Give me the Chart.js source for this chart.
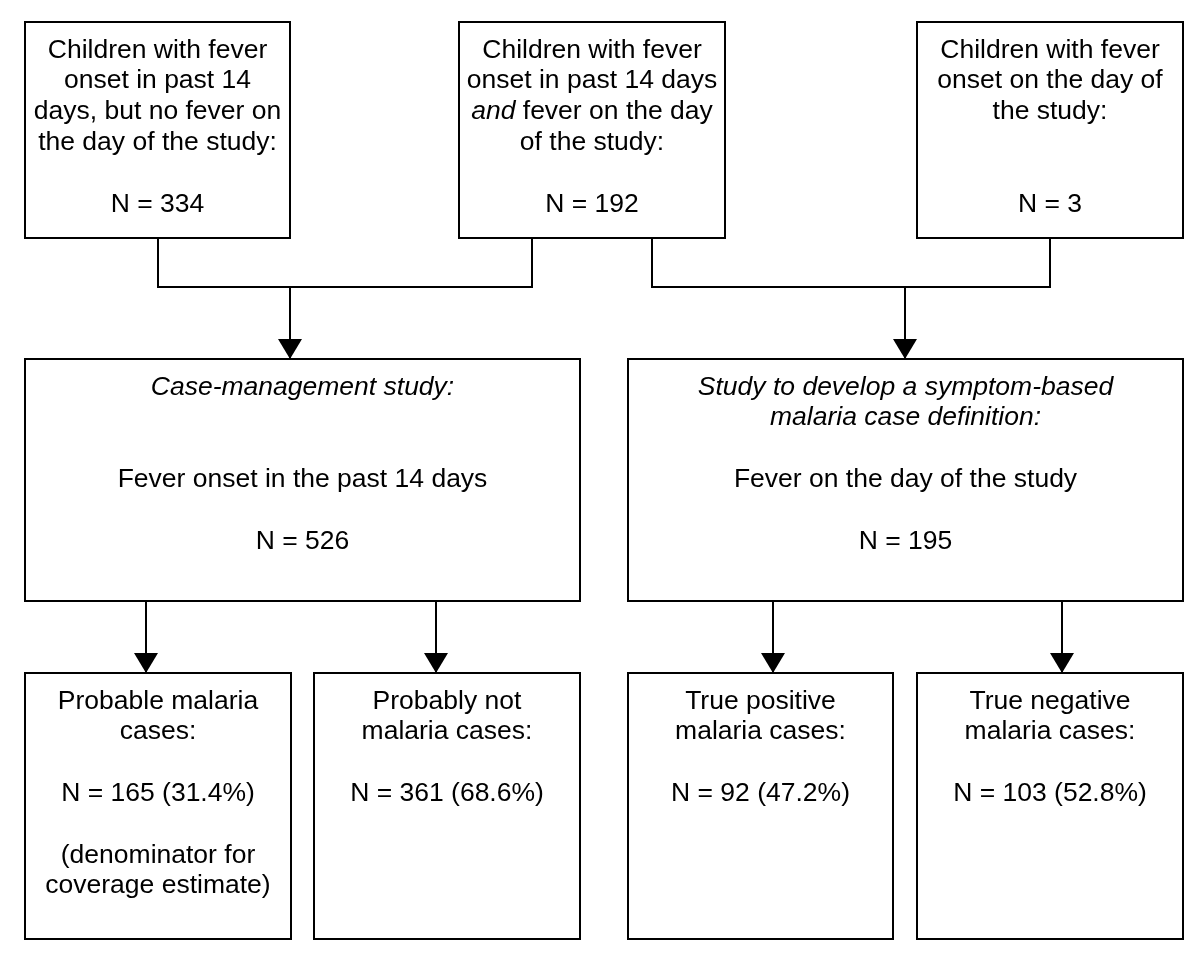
<!DOCTYPE html>
<html>
<head>
<meta charset="utf-8">
<script src="https://cdn.jsdelivr.net/npm/chart.js@4"></script>
<style>
  html, body { margin: 0; padding: 0; background: #fff; }
  #wrap { width: 1200px; height: 958px; position: relative; }
</style>
</head>
<body>
<div id="wrap"><canvas id="flow"></canvas></div>
<script>
// Valores do fluxograma
const topLabels = [
  ['Children with fever', 'onset in past 14', 'days, but no fever on', 'the day of the study:'],
  ['Children with fever', 'onset in past 14 days', '*and* fever on the day', 'of the study:'],
  ['Children with fever', 'onset on the day of', 'the study:']
];
const topCounts = [334, 192, 3];

const studyTitles = [
  ['Case-management study:'],
  ['Study to develop a symptom-based', 'malaria case definition:']
];
const studyCriteria = ['Fever onset in the past 14 days', 'Fever on the day of the study'];
const studyCounts = [526, 195];

const outcomeLabels = [
  ['Probable malaria', 'cases:'],
  ['Probably not', 'malaria cases:'],
  ['True positive', 'malaria cases:'],
  ['True negative', 'malaria cases:']
];
const outcomeCounts = [165, 361, 92, 103];
const outcomePct = [31.4, 68.6, 47.2, 52.8];
const outcomeNotes = [['(denominator for', 'coverage estimate)'], [], [], []];

// Layout (unidades do eixo = pixels da figura)
const topBoxes = [[25, 22, 290, 238], [459, 22, 725, 238], [917, 22, 1183, 238]];
const studyBoxes = [[25, 359, 580, 601], [628, 359, 1183, 601]];
const outcomeBoxes = [[25, 673, 291, 939], [314, 673, 580, 939], [628, 673, 893, 939], [917, 673, 1183, 939]];
const joins = [
  [[158, 238], [158, 287], [532, 287], [532, 238]],
  [[652, 238], [652, 287], [1050, 287], [1050, 238]]
];
const arrows = [
  [[290, 287], [290, 359]], [[905, 287], [905, 359]],
  [[146, 601], [146, 673]], [[436, 601], [436, 673]],
  [[773, 601], [773, 673]], [[1062, 601], [1062, 673]]
];

const FONT = '"Liberation Sans", Arial, Helvetica, sans-serif';
const FONT_SIZE = 26.5;
const FIRST_LINE = 35.5;
const LINE_STEP = 30.8;
const HEAD_LEN = 20;
const HEAD_HALF = 12;

function pad(arr, n) {
  const out = arr.slice();
  while (out.length < n) out.push('');
  return out;
}

// monta as linhas de texto de cada caixa
const boxes = [];
topBoxes.forEach((b, i) => {
  boxes.push({ rect: b, lines: pad(topLabels[i], 4).concat(['', 'N = ' + topCounts[i]]) });
});
studyBoxes.forEach((b, i) => {
  const t = pad(studyTitles[i], 2).map(s => s ? '*' + s + '*' : '');
  boxes.push({ rect: b, lines: t.concat(['', studyCriteria[i], '', 'N = ' + studyCounts[i]]) });
});
outcomeBoxes.forEach((b, i) => {
  const l = outcomeLabels[i].concat(['', 'N = ' + outcomeCounts[i] + ' (' + outcomePct[i].toFixed(1) + '%)']);
  boxes.push({ rect: b, lines: outcomeNotes[i].length ? l.concat([''], outcomeNotes[i]) : l });
});

function drawRich(ctx, text, cx, y) {
  // trechos entre * ficam em itálico
  const parts = text.split('*').map((s, k) => ({ s: s, it: k % 2 === 1 })).filter(p => p.s);
  let total = 0;
  parts.forEach(p => {
    ctx.font = (p.it ? 'italic ' : '') + FONT_SIZE + 'px ' + FONT;
    p.w = ctx.measureText(p.s).width;
    total += p.w;
  });
  let x = cx - total / 2;
  parts.forEach(p => {
    ctx.font = (p.it ? 'italic ' : '') + FONT_SIZE + 'px ' + FONT;
    ctx.fillText(p.s, x, y);
    x += p.w;
  });
}

const boxPlugin = {
  id: 'boxPlugin',
  afterDatasetsDraw(chart) {
    const ctx = chart.ctx;
    const sx = chart.scales.x, sy = chart.scales.y;
    ctx.save();
    ctx.strokeStyle = '#000';
    ctx.fillStyle = '#000';
    ctx.lineWidth = 2;
    ctx.textAlign = 'left';
    ctx.textBaseline = 'alphabetic';
    boxes.forEach(b => {
      const x0 = sx.getPixelForValue(b.rect[0]), x1 = sx.getPixelForValue(b.rect[2]);
      const y0 = sy.getPixelForValue(b.rect[1]), y1 = sy.getPixelForValue(b.rect[3]);
      ctx.strokeRect(x0, y0, x1 - x0, y1 - y0);
      const cx = (x0 + x1) / 2;
      b.lines.forEach((line, k) => {
        if (!line) return;
        const y = sy.getPixelForValue(b.rect[1] + FIRST_LINE + k * LINE_STEP);
        drawRich(ctx, line, cx, y);
      });
    });
    // pontas das setas
    chart.data.datasets.forEach((ds, i) => {
      if (!ds.arrow) return;
      const pts = chart.getDatasetMeta(i).data;
      const tip = pts[pts.length - 1];
      ctx.beginPath();
      ctx.moveTo(tip.x, tip.y);
      ctx.lineTo(tip.x - HEAD_HALF, tip.y - HEAD_LEN);
      ctx.lineTo(tip.x + HEAD_HALF, tip.y - HEAD_LEN);
      ctx.closePath();
      ctx.fill();
    });
    ctx.restore();
  }
};

const datasets = [];
joins.forEach(j => datasets.push({ data: j.map(p => ({ x: p[0], y: p[1] })) }));
arrows.forEach(a => datasets.push({ arrow: true, data: a.map(p => ({ x: p[0], y: p[1] })) }));
datasets.forEach(ds => {
  ds.showLine = true;
  ds.borderColor = '#000';
  ds.borderWidth = 2;
  ds.pointRadius = 0;
  ds.borderJoinStyle = 'miter';
  ds.tension = 0;
});

new Chart(document.getElementById('flow').getContext('2d'), {
  type: 'scatter',
  data: { datasets: datasets },
  options: {
    responsive: true,
    maintainAspectRatio: false,
    animation: false,
    layout: { padding: 0 },
    plugins: { legend: { display: false }, tooltip: { enabled: false } },
    scales: {
      x: { type: 'linear', min: 0, max: 1200, display: false },
      y: { type: 'linear', min: 0, max: 958, reverse: true, display: false }
    }
  },
  plugins: [boxPlugin]
});
</script>
</body>
</html>
